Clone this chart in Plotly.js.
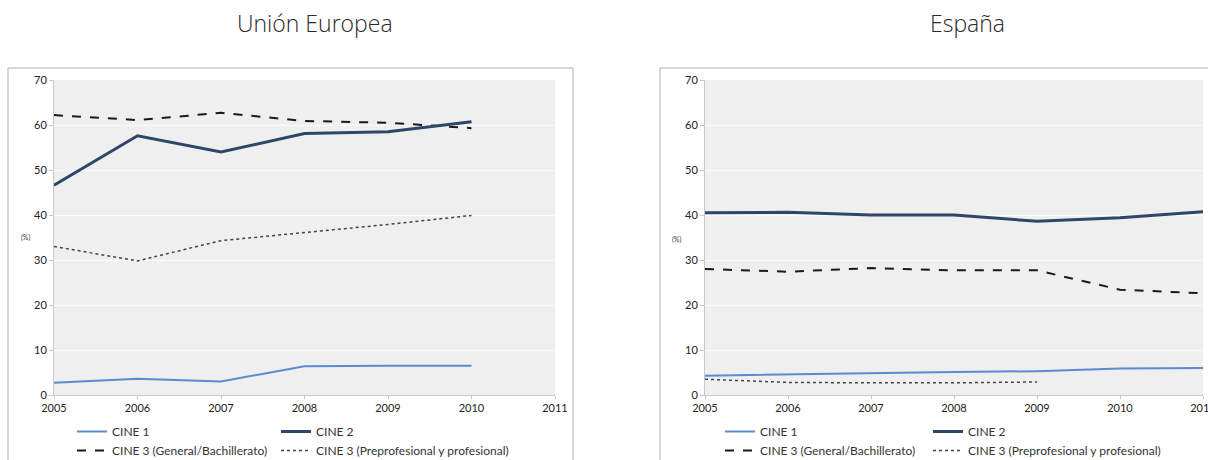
<!DOCTYPE html>
<html>
<head>
<meta charset="utf-8">
<script src="https://cdn.plot.ly/plotly-3.0.1.min.js"></script>
<style>html,body{margin:0;padding:0;background:#fff;}#chart{width:1208px;height:460px;}</style>
</head>
<body>
<div id="chart"></div>
<script>
// ---- Data ----
const yearsEU = [2005, 2006, 2007, 2008, 2009, 2010];
const euCine1 = [2.7, 3.6, 3.0, 6.4, 6.5, 6.5];
const euCine2 = [46.6, 57.6, 54.0, 58.1, 58.5, 60.7];
const euCine3Gen = [62.2, 61.1, 62.7, 60.9, 60.5, 59.3];
const euCine3Prof = [33.0, 29.8, 34.3, 36.1, 37.9, 39.9];

const yearsES = [2005, 2006, 2007, 2008, 2009, 2010, 2011];
const esCine1 = [4.3, 4.6, 4.9, 5.1, 5.3, 5.9, 6.0];
const esCine2 = [40.5, 40.6, 40.0, 40.0, 38.6, 39.4, 40.7];
const esCine3Gen = [28.0, 27.4, 28.2, 27.7, 27.7, 23.4, 22.6];
const yearsESProf = [2005, 2006, 2007, 2008, 2009];
const esCine3Prof = [3.5, 2.8, 2.7, 2.7, 2.9];

const seriesNames = ["CINE 1", "CINE 2", "CINE 3 (General/Bachillerato)", "CINE 3 (Preprofesional y profesional)"];
const panelTitles = ["Unión Europea", "España"];
const yTicks = [0, 10, 20, 30, 40, 50, 60, 70];
const xTicks = [2005, 2006, 2007, 2008, 2009, 2010, 2011];

// ---- Styles ----
const W = 1208, H = 460;
const styles = [
  {color: '#5b8ad0', width: 2, dash: 'solid'},
  {color: '#2e4668', width: 3, dash: 'solid'},
  {color: '#1a1a1a', width: 2, dash: 'dash'},
  {color: '#444444', width: 1.5, dash: 'dot'}
];
function px(x){ return x / W; }
function py(y){ return 1 - y / H; }

function tr(x, y, i, xa, ya, leg, show){
  return {x: x, y: y, type: 'scatter', mode: 'lines', name: seriesNames[i],
    line: {color: styles[i].color, width: styles[i].width, dash: styles[i].dash},
    xaxis: xa, yaxis: ya, legend: leg, showlegend: show, hoverinfo: 'x+y+name'};
}

const data = [
  tr(yearsEU, euCine1, 0, 'x', 'y', 'legend', true),
  tr(yearsEU, euCine3Gen, 2, 'x', 'y', 'legend', true),
  tr(yearsEU, euCine2, 1, 'x', 'y', 'legend2', true),
  tr(yearsEU, euCine3Prof, 3, 'x', 'y', 'legend2', true),
  tr(yearsES, esCine1, 0, 'x2', 'y2', 'legend3', true),
  tr(yearsES, esCine3Gen, 2, 'x2', 'y2', 'legend3', true),
  tr(yearsES, esCine2, 1, 'x2', 'y2', 'legend4', true),
  tr(yearsESProf, esCine3Prof, 3, 'x2', 'y2', 'legend4', true)
];

const tickFont = {family: 'Lato, "Open Sans", sans-serif', size: 11, color: '#222'};
function xax(domain, anchor){
  return {domain: domain, anchor: anchor, range: [2005, 2011], tickvals: xTicks, ticktext: xTicks.map(String),
    showgrid: false, zeroline: false, showline: true, linecolor: '#c8c8c8', linewidth: 1, automargin: false,
    ticklabeloverflow: 'allow',
    ticks: 'outside', ticklen: 3, tickcolor: '#c8c8c8', tickfont: tickFont, fixedrange: true};
}
function yax(domain, anchor){
  return {domain: domain, anchor: anchor, range: [0, 70], tickvals: yTicks, automargin: false,
    showgrid: true, gridcolor: '#fbfbfb', gridwidth: 1, zeroline: false, showline: true, linecolor: '#c8c8c8', linewidth: 1,
    ticks: 'outside', ticklen: 4, tickcolor: '#c8c8c8', tickfont: tickFont, fixedrange: true};
}
const yDom = [py(395), py(80)];
const legFont = {family: 'Lato, "Open Sans", sans-serif', size: 12, color: '#333'};
function leg(x){
  return {x: px(x), xanchor: 'left', y: py(417), yanchor: 'top', orientation: 'v',
    bgcolor: 'rgba(0,0,0,0)', font: legFont, tracegroupgap: 0, itemwidth: 30, traceorder: 'normal'};
}

const titleFont = {family: '"Open Sans", Lato, sans-serif', size: 23, color: '#2a2a2a', weight: 300};
const layout = {
  width: W, height: H,
  margin: {l: 0, r: 0, t: 0, b: 0, autoexpand: false},
  paper_bgcolor: '#ffffff', plot_bgcolor: '#efefef',
  font: {family: 'Lato, "Open Sans", sans-serif'},
  xaxis: xax([px(54), px(555)], 'y'),
  yaxis: yax(yDom, 'x'),
  xaxis2: xax([px(705), px(1203)], 'y2'),
  yaxis2: yax(yDom, 'x2'),
  legend: leg(72),
  legend2: leg(276),
  legend3: leg(720),
  legend4: leg(928),
  shapes: [
    {type: 'rect', xref: 'paper', yref: 'paper', x0: px(8), x1: px(573), y0: -0.02, y1: py(68),
      line: {color: '#b0b0b0', width: 1}, fillcolor: 'rgba(0,0,0,0)', layer: 'below'},
    {type: 'rect', xref: 'paper', yref: 'paper', x0: px(660), x1: 1.01, y0: -0.02, y1: py(68),
      line: {color: '#b0b0b0', width: 1}, fillcolor: 'rgba(0,0,0,0)', layer: 'below'}
  ],
  annotations: [
    {text: panelTitles[0], xref: 'paper', yref: 'paper', x: px(315), y: py(23), xanchor: 'center', yanchor: 'middle',
      showarrow: false, font: titleFont},
    {text: panelTitles[1], xref: 'paper', yref: 'paper', x: px(967), y: py(23), xanchor: 'center', yanchor: 'middle',
      showarrow: false, font: titleFont},
    {text: '(%)', xref: 'paper', yref: 'paper', x: px(25), y: py(237), xanchor: 'center', yanchor: 'middle',
      showarrow: false, font: {family: 'Lato, sans-serif', size: 7, color: '#333'}},
    {text: '(%)', xref: 'paper', yref: 'paper', x: px(676), y: py(239), xanchor: 'center', yanchor: 'middle',
      showarrow: false, font: {family: 'Lato, sans-serif', size: 7, color: '#333'}}
  ]
};

Plotly.newPlot('chart', data, layout, {displayModeBar: false, staticPlot: true});
</script>
</body>
</html>
